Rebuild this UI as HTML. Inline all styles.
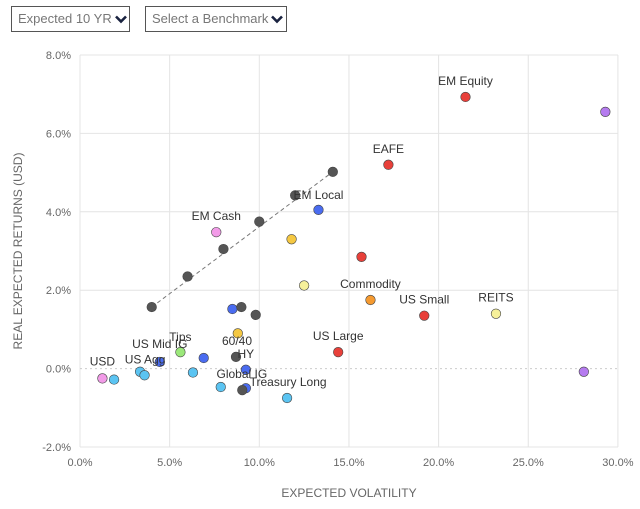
<!DOCTYPE html>
<html><head><meta charset="utf-8"><style>
body{margin:0;width:640px;height:509px;background:#fff;font-family:"Liberation Sans",sans-serif;overflow:hidden;position:relative}
.sel{position:absolute;top:6px;height:26px;border:1px solid #555;box-sizing:border-box;color:#777;font-size:13px;line-height:24px;padding-left:6px;white-space:nowrap}
.sel svg{position:static;vertical-align:middle;margin-left:3px}
#chart{position:absolute;left:0;top:0}
</style></head><body>
<div class="sel" style="left:11px;width:119px">Expected 10 YR<svg width="12" height="9" viewBox="0 0 12 9"><path d="M1 1.5 L6 6.5 L11 1.5" stroke="#1a2340" stroke-width="2.6" fill="none"/></svg></div>
<div class="sel" style="left:145px;width:142px">Select a Benchmark<svg width="12" height="9" viewBox="0 0 12 9"><path d="M1 1.5 L6 6.5 L11 1.5" stroke="#1a2340" stroke-width="2.6" fill="none"/></svg></div>
<svg id="chart" width="640" height="509" font-family="Liberation Sans, sans-serif">
<g id="grid"></g><g id="marks"></g><g id="labels"></g>
<text x="349" y="497" font-size="12" fill="#666" text-anchor="middle">EXPECTED VOLATILITY</text>
<text transform="translate(22,251) rotate(-90)" font-size="12" fill="#666" text-anchor="middle">REAL EXPECTED RETURNS (USD)</text>
</svg>
<script>
const xTicks=[0,5,10,15,20,25,30];
const yTicks=[-2,0,2,4,6,8];
const xs=[21.5,29.3,17.2,14.1,12.0,13.3,10.0,7.6,8.0,11.8,15.7,6.0,12.5,16.2,19.2,23.2,4.0,8.5,9.0,9.8,8.8,14.4,5.6,6.9,8.7,4.45,9.25,3.35,3.6,1.25,1.9,6.3,7.85,9.25,9.05,11.55,28.1];
const ys=[6.93,6.55,5.2,5.02,4.42,4.05,3.75,3.48,3.05,3.3,2.85,2.35,2.12,1.75,1.35,1.4,1.57,1.52,1.57,1.37,0.9,0.42,0.42,0.27,0.3,0.17,-0.03,-0.08,-0.17,-0.25,-0.28,-0.1,-0.47,-0.5,-0.55,-0.75,-0.08];
const cols=["#e8403a","#b57bef","#e8403a","#555","#555","#4a6cf0","#555","#f29be8","#555","#f5c842","#e8403a","#555","#f6f09a","#f59a30","#e8403a","#f6f09a","#555","#4a6cf0","#555","#555","#f5c842","#e8403a","#9be87a","#4a6cf0","#555","#4a6cf0","#4a6cf0","#5bc4f2","#5bc4f2","#f29be8","#5bc4f2","#5bc4f2","#5bc4f2","#4a6cf0","#555","#5bc4f2","#b57bef"];
const labels=["EM Equity","EAFE","EM Local","EM Cash","Commodity","US Small","REITS","US Large","Tips","60/40","HY","US Mid IG","Global IG","US Agg","USD","Treasury Long"];
const labelIdx=[0,2,5,7,13,14,15,21,22,24,26,25,33,27,29,35];
const labelDx=[0,0,0,0,0,0,0,0,0,1,0,0,-4,5,0,1];
const labelDy=[-12,-12,-11,-12,-12,-12,-12,-12,-11,-12,-12,-14,-10,-8,-13,-12];
const lineIdx=[16,3];
const X=v=>80+v*17.93, Y=v=>368.6-v*39.2;
const NS="http://www.w3.org/2000/svg";
function mk(t,a,p){const e=document.createElementNS(NS,t);for(const k in a)e.setAttribute(k,a[k]);document.getElementById(p).appendChild(e);return e;}
xTicks.forEach(t=>{const l=mk('line',{x1:X(t),x2:X(t),y1:55,y2:447,stroke:'#e4e4e4'},'grid');


const tx=mk('text',{x:X(t),y:466,'font-size':11,fill:'#666','text-anchor':'middle'},'grid');tx.textContent=t.toFixed(1)+'%';

});
yTicks.forEach(t=>{const l=mk('line',{x1:80,x2:618,y1:Y(t),y2:Y(t),stroke:t===0?'#ccc':'#e4e4e4','stroke-dasharray':t===0?'2,3':'none'},'grid');


const tx=mk('text',{x:71,y:Y(t)+4,'font-size':11,fill:'#666','text-anchor':'end'},'grid');tx.textContent=t.toFixed(1)+'%';

});
const ln=mk('line',{x1:X(xs[lineIdx[0]]),y1:Y(ys[lineIdx[0]]),x2:X(xs[lineIdx[1]]),y2:Y(ys[lineIdx[1]]),stroke:'#777','stroke-dasharray':'4,3'},'marks');


xs.forEach((x,i)=>{const c=mk('circle',{cx:X(x),cy:Y(ys[i]),r:4.8,fill:cols[i],stroke:'#444','stroke-width':0.6},'marks');

});
labels.forEach((s,j)=>{const i=labelIdx[j];const t=mk('text',{x:X(xs[i])+labelDx[j],y:Y(ys[i])+labelDy[j],'font-size':12,fill:'#333','text-anchor':'middle'},'labels');t.textContent=s;

});
</script>
</body></html>
